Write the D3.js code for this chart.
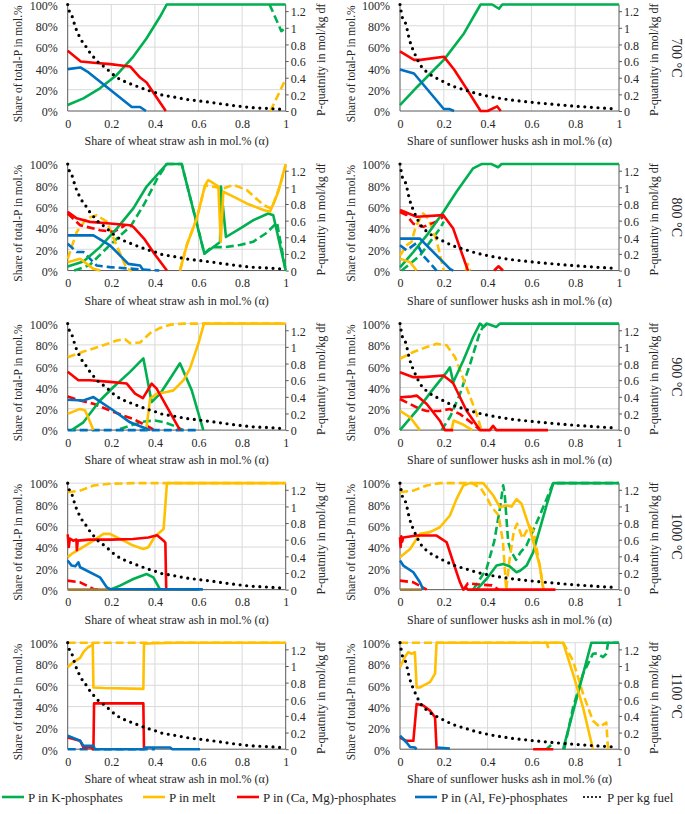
<!DOCTYPE html>
<html>
<head>
<meta charset="utf-8">
<script src="https://cdn.jsdelivr.net/npm/d3@7"></script>
<style>
  body { margin: 0; background: #fff; }
  text { font-family: "Liberation Serif", "Times New Roman", "DejaVu Serif", serif; fill: #262626; }
</style>
</head>
<body>
<svg id="chart"></svg>
<script>
// ---- categories / ticks ----
const temps = ['700 °C', '800 °C', '900 °C', '1000 °C', '1100 °C'];
const ashes = ['wheat straw', 'sunflower husks'];
const alphaTicks = [0, 0.2, 0.4, 0.6, 0.8, 1];
const shareTicks = [0, 20, 40, 60, 80, 100];
const qtyTicks = [0, 0.2, 0.4, 0.6, 0.8, 1, 1.2];
const legendNames = ['P in K-phosphates', 'P in melt', 'P in (Ca, Mg)-phosphates', 'P in (Al, Fe)-phosphates', 'P per kg fuel'];

// ---- P per kg fuel (mol/kg df) ----
const pWheat = [[0,1.28],[0.005,1.22],[0.02,1.14],[0.035,1.01],[0.053,0.90],[0.07,0.82],[0.085,0.77],[0.105,0.69],[0.125,0.63],[0.146,0.57],[0.169,0.53],[0.195,0.47],[0.222,0.41],[0.248,0.37],[0.275,0.34],[0.304,0.31],[0.335,0.28],[0.365,0.25],[0.393,0.23],[0.423,0.20],[0.484,0.17],[0.545,0.14],[0.606,0.12],[0.667,0.10],[0.728,0.077],[0.788,0.057],[0.849,0.04],[0.91,0.032],[0.975,0.021]];
const pSun = [[0,1.28],[0.005,1.2],[0.01,1.13],[0.026,1.05],[0.044,0.85],[0.067,0.69],[0.094,0.55],[0.132,0.45],[0.178,0.38],[0.2,0.35],[0.25,0.29],[0.3,0.25],[0.35,0.21],[0.4,0.18],[0.5,0.135],[0.6,0.105],[0.7,0.08],[0.8,0.058],[0.9,0.04],[0.975,0.028]];

// ---- share of total-P (%), [alpha, value]; null breaks a line ----
// 700 °C
const w700K = [[0,5.6],[0.072,11.9],[0.148,21.3],[0.225,33.9],[0.301,51.1],[0.362,68.3],[0.424,88.7],[0.454,100],[1,100]];
const w700Kd = [[0.926,100],[0.98,75],[1,78]];
const w700Md = [[0.93,0],[1,30]];
const w700C = [[0,56.5],[0.06,46.5],[0.119,45.3],[0.195,44],[0.256,42.5],[0.286,41.8],[0.332,31.4],[0.362,26.7],[0.408,12.6],[0.45,0]];
const w700A = [[0,39.3],[0.058,40.9],[0.09,37],[0.294,3.8],[0.332,3.8],[0.359,0]];
const s700K = [[0,5.6],[0.079,22.8],[0.2,48],[0.292,72.8],[0.368,100],[0.421,100],[0.452,96],[0.467,100],[1,100]];
const s700C = [[0,55.9],[0.064,48],[0.094,48],[0.2,51],[0.247,39],[0.307,20],[0.368,0],[0.4,0],[0.444,4.3],[0.46,0]];
const s700A = [[0,38.9],[0.064,35.2],[0.2,1.9],[0.224,1.9],[0.247,0]];
// 800 °C
const w800K = [[0,3.8],[0.072,8.5],[0.148,22],[0.225,39.4],[0.301,58.4],[0.362,78.9],[0.454,100],[0.523,100],[0.627,15.8],[0.699,26.8],[0.703,78.9],[0.726,31.5],[0.79,39.4],[0.852,47.3],[0.92,53.6],[0.943,52],[1,0]];
const w800Kd = [[0.03,0],[0.1,5],[0.194,24],[0.29,42],[0.35,62],[0.41,86],[0.454,100],[0.523,100],[0.627,16],[0.66,22],[0.72,22],[0.79,24],[0.85,27],[0.91,35],[0.96,45],[1,0]];
const w800M = [[0,7.9],[0.057,11],[0.118,1.6],[0.15,0],[0.2,null],[0.515,0],[0.546,23.7],[0.592,48.9],[0.63,80],[0.645,85],[0.691,79],[0.702,27],[0.714,74],[0.76,69.4],[0.821,63],[0.898,56.8],[0.928,55.2],[0.966,74],[1,100]];
const w800Md = [[0,11],[0.041,36],[0.087,49],[0.133,52],[0.179,46],[0.217,27],[0.271,1.6],[0.294,0],[0.4,null],[0.515,0],[0.546,23.7],[0.592,48.9],[0.63,80],[0.66,79],[0.711,77],[0.76,80.4],[0.821,75.7],[0.898,61.5],[0.936,58],[0.974,80],[1,99]];
const w800C = [[0,55.2],[0.041,49],[0.102,45.7],[0.194,44.2],[0.286,42.6],[0.301,41],[0.35,30],[0.4,15],[0.455,0]];
const w800Cd = [[0,53.6],[0.057,42.6],[0.148,37.9],[0.21,36.3],[0.24,39.4],[0.263,42.6]];
const w800A = [[0,33],[0.118,33],[0.194,23.7],[0.278,6.3],[0.332,4.7],[0.347,0]];
const w800Ad = [[0,25.2],[0.041,17.4],[0.072,17.4],[0.133,4.7],[0.194,3.2],[0.3,1.6],[0.42,0]];
const s800K = [[0,3],[0.061,17.4],[0.122,33],[0.198,55],[0.258,74],[0.334,96],[0.372,100],[0.418,100],[0.448,97],[0.464,100],[1,100]];
const s800Kd = [[0.008,0],[0.091,14],[0.182,39.4],[0.2,46]];
const s800M = [[0,11],[0.046,7.9],[0.076,0]];
const s800Md = [[0,14],[0.03,23.7],[0.053,27],[0.07,40],[0.091,49],[0.106,53.6],[0.129,49],[0.167,28.4],[0.198,1.6],[0.2,0],[0.25,null],[0.3,0],[0.31,6],[0.32,0]];
const s800C = [[0,56.8],[0.076,50.5],[0.198,52],[0.243,39.4],[0.31,0],[0.38,null],[0.43,0],[0.45,4],[0.47,0]];
const s800Cd = [[0,55],[0.03,52],[0.061,44],[0.106,41],[0.167,46],[0.198,50.5]];
const s800A = [[0,30],[0.091,30],[0.228,1.6],[0.243,0]];
const s800Ad = [[0,23.7],[0.03,19],[0.076,26],[0.106,14],[0.167,0]];
// 900 °C
const w900K = [[0.018,0],[0.072,7.3],[0.148,27.8],[0.21,40.5],[0.286,54.7],[0.347,67.4],[0.385,26.3],[0.424,34.2],[0.47,48.4],[0.515,62.7],[0.569,37.3],[0.622,0]];
const w900Kd = [[0.24,1],[0.3,5],[0.35,8],[0.4,9],[0.45,7],[0.5,3],[0.53,0]];
const w900M = [[0,15.2],[0.057,19.9],[0.08,18.4],[0.118,0],[0.2,null],[0.36,0],[0.378,29.4],[0.408,34.2],[0.454,35.8],[0.485,37.3],[0.531,46.8],[0.561,58],[0.6,81.6],[0.625,100],[1,100]];
const w900Md = [[0,68.4],[0.072,73.7],[0.148,78.5],[0.225,84.2],[0.263,85.4],[0.286,81.6],[0.332,82.3],[0.378,91],[0.424,95.9],[0.47,99],[0.53,100],[1,100]];
const w900C = [[0,54.7],[0.049,46.8],[0.102,46.8],[0.194,45.3],[0.271,43.7],[0.309,34.2],[0.345,30],[0.385,43.7],[0.408,38.9],[0.515,0]];
const w900Cd = [[0,31.6],[0.057,27.8],[0.118,24.7],[0.194,18.4],[0.255,13.6],[0.301,10.4],[0.347,5.7],[0.4,0]];
const w900A = [[0,28.5],[0.072,27.8],[0.118,31],[0.21,18.4],[0.286,7.3],[0.347,2.5],[0.378,0]];
const w900Ad = [[0,0],[0.6,0]];
const s900K = [[0,0],[0.076,18.2],[0.152,38.7],[0.213,54.4],[0.228,59],[0.243,45],[0.289,65.4],[0.334,87.4],[0.365,100],[0.383,96.9],[0.395,100],[0.44,96.9],[0.456,100],[1,100]];
const s900Kd = [[0.19,0],[0.23,13],[0.274,34],[0.32,62],[0.365,92],[0.38,97],[0.4,100]];
const s900M = [[0,18.2],[0.046,12],[0.091,0],[0.15,null],[0.235,0],[0.245,9],[0.29,5],[0.33,0]];
const s900Md = [[0,67],[0.061,73.3],[0.122,78],[0.167,81],[0.213,79.6],[0.251,68.6],[0.304,40],[0.35,15],[0.372,0]];
const s900C = [[0,54.4],[0.061,49.7],[0.106,49.7],[0.198,51.3],[0.228,46.5],[0.243,44],[0.304,18.2],[0.365,0],[0.41,0],[0.425,4],[0.44,0],[0.676,0]];
const s900C2 = [[0,30.8],[0.046,31.4],[0.076,32.4],[0.122,24.5],[0.182,8.8],[0.205,0],[0.243,0]];
const s900Cd = [[0,29.2],[0.091,19.8],[0.122,18],[0.182,18],[0.228,19.8],[0.274,15],[0.334,5.7],[0.365,0]];
// 1000 °C
const w1000K = [[0.194,0],[0.24,3.8],[0.301,10],[0.362,14.7],[0.393,11.6],[0.424,0]];
const w1000M = [[0,30.4],[0.018,33.5],[0.057,38.2],[0.118,46],[0.164,52.4],[0.194,52.4],[0.24,47.6],[0.301,41.4],[0.347,38.2],[0.37,39.8],[0.4,50],[0.44,57],[0.455,99.4],[0.46,100],[1,100]];
const w1000Md = [[0,91.5],[0.057,93],[0.118,97.8],[0.194,99.4],[0.3,100],[1,100]];
const w1000C = [[0,52],[0.005,40],[0.01,48],[0.025,46],[0.04,47],[0.042,37],[0.046,46],[0.1,47],[0.2,47],[0.3,47.5],[0.37,49],[0.41,51],[0.44,46],[0.448,44],[0.452,0]];
const w1000Cd = [[0,8.5],[0.057,6.9],[0.118,0.6],[0.14,0]];
const w1000A = [[0,27.3],[0.006,25.7],[0.018,22.6],[0.035,22],[0.049,25.7],[0.057,21],[0.148,11.6],[0.179,2.2],[0.194,0.6],[0.62,0.3]];
const w1000X = [[0,0],[0.6,0]];
const s1000K = [[0.35,0],[0.395,10],[0.441,22.6],[0.471,24],[0.5,22],[0.532,16.3],[0.55,18],[0.578,22.6],[0.608,35],[0.669,79],[0.7,100],[1,100]];
const s1000Kd = [[0.334,0],[0.395,19.4],[0.43,45],[0.456,76],[0.471,98],[0.478,90],[0.494,44.5],[0.51,35],[0.53,28],[0.55,35],[0.578,41.7],[0.638,69.6],[0.669,85],[0.699,100],[1,100]];
const s1000M = [[0,30.4],[0.046,38.2],[0.091,52.4],[0.137,54],[0.182,58.6],[0.228,69.6],[0.258,85],[0.289,97.8],[0.319,100],[0.38,100],[0.426,88.4],[0.456,77.4],[0.486,79],[0.51,78],[0.532,85],[0.555,80.6],[0.593,57],[0.638,22.6],[0.655,0]];
const s1000Md = [[0,91.5],[0.061,93],[0.122,97.8],[0.182,100],[0.33,100],[0.37,95],[0.4,85],[0.42,77],[0.45,70],[0.47,45],[0.485,0],[0.5,28],[0.52,55],[0.535,62],[0.56,48],[0.59,60],[0.61,55],[0.64,20],[0.655,0]];
const s1000C = [[0,49.2],[0.003,40],[0.006,50],[0.01,45],[0.015,49],[0.076,50.8],[0.167,50.8],[0.213,44.5],[0.243,25.7],[0.274,6.9],[0.289,0],[0.3,2],[0.31,0],[0.71,0]];
const s1000Cd = [[0,8.5],[0.061,6.9],[0.122,0],[0.2,null],[0.29,0],[0.31,6],[0.35,5],[0.42,4],[0.45,0]];
const s1000A = [[0,27.3],[0.015,22.6],[0.061,16.3],[0.091,6.9],[0.106,0]];
const s1000X = [[0,0],[0.1,0]];
// 1100 °C
const w1100M = [[0,77],[0.026,81.8],[0.057,85.8],[0.072,91.2],[0.095,96],[0.11,97.5],[0.115,99],[0.118,58],[0.164,57.5],[0.347,56.6],[0.35,99],[0.4,99.5],[0.5,100],[1,100]];
const w1100Md = [[0,100],[1,100]];
const w1100C = [[0,11],[0.057,7.9],[0.072,1.6],[0.11,1.6],[0.118,0],[0.121,43],[0.347,43],[0.35,0]];
const w1100A = [[0,12.6],[0.057,7.9],[0.072,3.1],[0.118,3.1],[0.125,0],[0.35,0],[0.355,1.6],[0.47,1.6],[0.48,0],[0.607,0]];
const w1100Ad = [[0,0],[0.4,0]];
const s1100K = [[0.745,0],[0.874,100],[1,100]];
const s1100Kd = [[0.669,0],[0.69,4],[0.72,null],[0.75,0],[0.79,39],[0.836,70.8],[0.881,89.6],[0.9,90],[0.927,86.5],[0.942,89.6],[0.95,100],[1,100]];
const s1100M = [[0,77],[0.023,86.8],[0.038,91.2],[0.053,89.6],[0.068,91],[0.076,58],[0.091,58],[0.137,63],[0.16,71],[0.167,100],[0.745,100],[0.79,70.8],[0.836,39],[0.881,0]];
const s1100Md = [[0,100],[0.669,100],[0.676,96],[0.69,100],[0.745,100],[0.79,83],[0.836,52],[0.881,26.7],[0.912,21],[0.942,25],[0.95,0]];
const s1100C = [[0,11],[0.03,7.9],[0.061,7.9],[0.076,42.5],[0.106,41],[0.137,36.2],[0.16,30],[0.167,0],[0.3,null],[0.608,0],[0.7,0]];
const s1100A = [[0,12.6],[0.03,6.3],[0.046,2],[0.068,1.6],[0.076,0],[0.12,null],[0.167,1.6],[0.228,0.6]];

// ---- styles ----
const colors = { K: '#00b050', M: '#ffc000', C: '#ff0000', A: '#0070c0', X: '#a07c3c', P: '#000' };
const serif = '"Liberation Serif", "Times New Roman", "DejaVu Serif", serif';

// series per panel: [data, colour key, dashed]
const panelSeries = [
  [[w700Kd,'K',1],[w700Md,'M',1],[w700K,'K',0],[w700C,'C',0],[w700A,'A',0]],
  [[s700K,'K',0],[s700C,'C',0],[s700A,'A',0]],
  [[w800Kd,'K',1],[w800Md,'M',1],[w800Cd,'C',1],[w800Ad,'A',1],[w800K,'K',0],[w800M,'M',0],[w800C,'C',0],[w800A,'A',0]],
  [[s800Kd,'K',1],[s800Md,'M',1],[s800Cd,'C',1],[s800Ad,'A',1],[s800K,'K',0],[s800M,'M',0],[s800C,'C',0],[s800A,'A',0]],
  [[w900Kd,'K',1],[w900Md,'M',1],[w900Cd,'C',1],[w900Ad,'A',1],[w900K,'K',0],[w900M,'M',0],[w900C,'C',0],[w900A,'A',0]],
  [[s900Kd,'K',1],[s900Md,'M',1],[s900Cd,'C',1],[s900K,'K',0],[s900M,'M',0],[s900C,'C',0],[s900C2,'C',0]],
  [[w1000Md,'M',1],[w1000Cd,'C',1],[w1000X,'X',0],[w1000K,'K',0],[w1000M,'M',0],[w1000C,'C',0],[w1000A,'A',0]],
  [[s1000Kd,'K',1],[s1000Md,'M',1],[s1000Cd,'C',1],[s1000X,'X',0],[s1000K,'K',0],[s1000M,'M',0],[s1000C,'C',0],[s1000A,'A',0]],
  [[w1100Md,'M',1],[w1100Ad,'A',1],[w1100M,'M',0],[w1100C,'C',0],[w1100A,'A',0]],
  [[s1100Kd,'K',1],[s1100Md,'M',1],[s1100K,'K',0],[s1100M,'M',0],[s1100C,'C',0],[s1100A,'A',0]]
];

const svg = d3.select('#chart')
  .attr('width', 685)
  .attr('height', 814);

const cols = [
  { x0: 67.7, x1: 285.7, yTitle: 18, rTitle: 321 },
  { x0: 400, x1: 619, yTitle: 351, rTitle: 654 }
];
const top0 = 4.5, rowStep = 159.55, ph = 106.5;

const fmt = d => String(+d.toFixed(1));

temps.forEach((temp, r) => {
  ashes.forEach((ash, c) => {
    const col = cols[c];
    const pw = col.x1 - col.x0;
    const top = top0 + r * rowStep;
    const g = svg.append('g').attr('transform', `translate(${col.x0},${top})`);

    const x = d3.scaleLinear().domain([0, 1]).range([0, pw]);
    const y = d3.scaleLinear().domain([0, 100]).range([ph, 0]);
    const y2 = d3.scaleLinear().domain([0, 1.28]).range([ph, 0]);

    // grid
    g.append('g').selectAll('line').data(shareTicks.slice(1)).join('line')
      .attr('x1', 0).attr('x2', pw).attr('y1', d => y(d)).attr('y2', d => y(d))
      .attr('stroke', '#d9d9d9').attr('stroke-width', 1);
    g.append('g').selectAll('line').data(alphaTicks.slice(1, -1)).join('line')
      .attr('x1', d => x(d)).attr('x2', d => x(d)).attr('y1', 0).attr('y2', ph)
      .attr('stroke', '#d9d9d9').attr('stroke-width', 1);

    // axes
    const xAxisG = g.append('g').attr('transform', `translate(0,${ph})`)
      .call(d3.axisBottom(x).tickValues(alphaTicks).tickFormat(fmt).tickSize(0).tickPadding(8));
    const yAxisG = g.append('g')
      .call(d3.axisLeft(y).tickValues(shareTicks).tickFormat(d => d + '%').tickSize(0).tickPadding(10));
    const y2AxisG = g.append('g').attr('transform', `translate(${pw},0)`)
      .call(d3.axisRight(y2).tickValues(qtyTicks).tickFormat(fmt).tickSize(3).tickPadding(2));
    [xAxisG, yAxisG, y2AxisG].forEach(a => {
      a.attr('font-family', serif);
      a.select('.domain').remove();
      a.selectAll('text').attr('font-size', 12).attr('fill', '#262626');
      a.selectAll('line').attr('stroke', '#595959');
    });
    yAxisG.selectAll('text').attr('dy', '0.4em');
    y2AxisG.selectAll('text').attr('dy', '0.4em');
    g.append('line').attr('x1', 0).attr('x2', 0).attr('y1', 0).attr('y2', ph).attr('stroke', '#595959');
    g.append('line').attr('x1', pw).attr('x2', pw).attr('y1', 0).attr('y2', ph).attr('stroke', '#595959');
    g.append('line').attr('x1', 0).attr('x2', pw).attr('y1', ph).attr('y2', ph).attr('stroke', '#595959');

    // series
    const line = d3.line().defined(d => d[1] != null).x(d => x(d[0])).y(d => y(d[1]));
    const series = panelSeries[r * 2 + c];
    const order = series.filter(s => s[2]).concat(series.filter(s => !s[2]));
    order.forEach(([data, key, dashed]) => {
      g.append('path').datum(data).attr('d', line)
        .attr('fill', 'none').attr('stroke', colors[key])
        .attr('stroke-width', 2.6)
        .attr('stroke-linejoin', 'round')
        .attr('stroke-dasharray', dashed ? '8,4' : null);
    });
    const qLine = d3.line().x(d => x(d[0])).y(d => y2(d[1])).curve(d3.curveMonotoneX);
    g.append('path').datum(c === 0 ? pWheat : pSun).attr('d', qLine)
      .attr('fill', 'none').attr('stroke', colors.P).attr('stroke-width', 3.2)
      .attr('stroke-linecap', 'round').attr('stroke-dasharray', '0,6.6');

    // titles
    svg.append('text')
      .attr('transform', `translate(${col.x0 + pw / 2},${top + ph + 34})`)
      .attr('text-anchor', 'middle').attr('font-size', 12)
      .text(`Share of ${ash} ash in mol.% (α)`);
    svg.append('text')
      .attr('transform', `translate(${col.yTitle},${top + ph / 2 + 6}) rotate(-90)`)
      .attr('text-anchor', 'middle').attr('dy', '0.35em').attr('font-size', 11.5)
      .text('Share of total-P in mol.%');
    svg.append('text')
      .attr('transform', `translate(${col.rTitle},${top + ph / 2 + 2}) rotate(-90)`)
      .attr('text-anchor', 'middle').attr('dy', '0.35em').attr('font-size', 12)
      .text('P-quatnity in mol/kg df');
    if (c === 1) {
      svg.append('text')
        .attr('transform', `translate(677,${top + ph / 2}) rotate(90)`)
        .attr('text-anchor', 'middle').attr('dy', '0.35em').attr('font-size', 14)
        .text(temp);
    }
  });
});

// legend
const legendKeys = ['K', 'M', 'C', 'A', 'P'];
const legendX = [2, 143, 237, 415, 584];
const lg = svg.append('g').attr('transform', 'translate(0,797)');
legendKeys.forEach((k, i) => {
  const item = lg.append('g').attr('transform', `translate(${legendX[i]},0)`);
  item.append('line').attr('x1', 0).attr('x2', k === 'P' ? 20 : 22).attr('y1', 0).attr('y2', 0)
    .attr('stroke', colors[k])
    .attr('stroke-width', k === 'P' ? 2.2 : 2.6)
    .attr('stroke-linecap', k === 'P' ? 'round' : null)
    .attr('stroke-dasharray', k === 'P' ? '0,4' : null);
  item.append('text').attr('x', k === 'P' ? 23 : 26).attr('dy', '0.35em').attr('font-size', 13)
    .text(legendNames[i]);
});
</script>
</body>
</html>
